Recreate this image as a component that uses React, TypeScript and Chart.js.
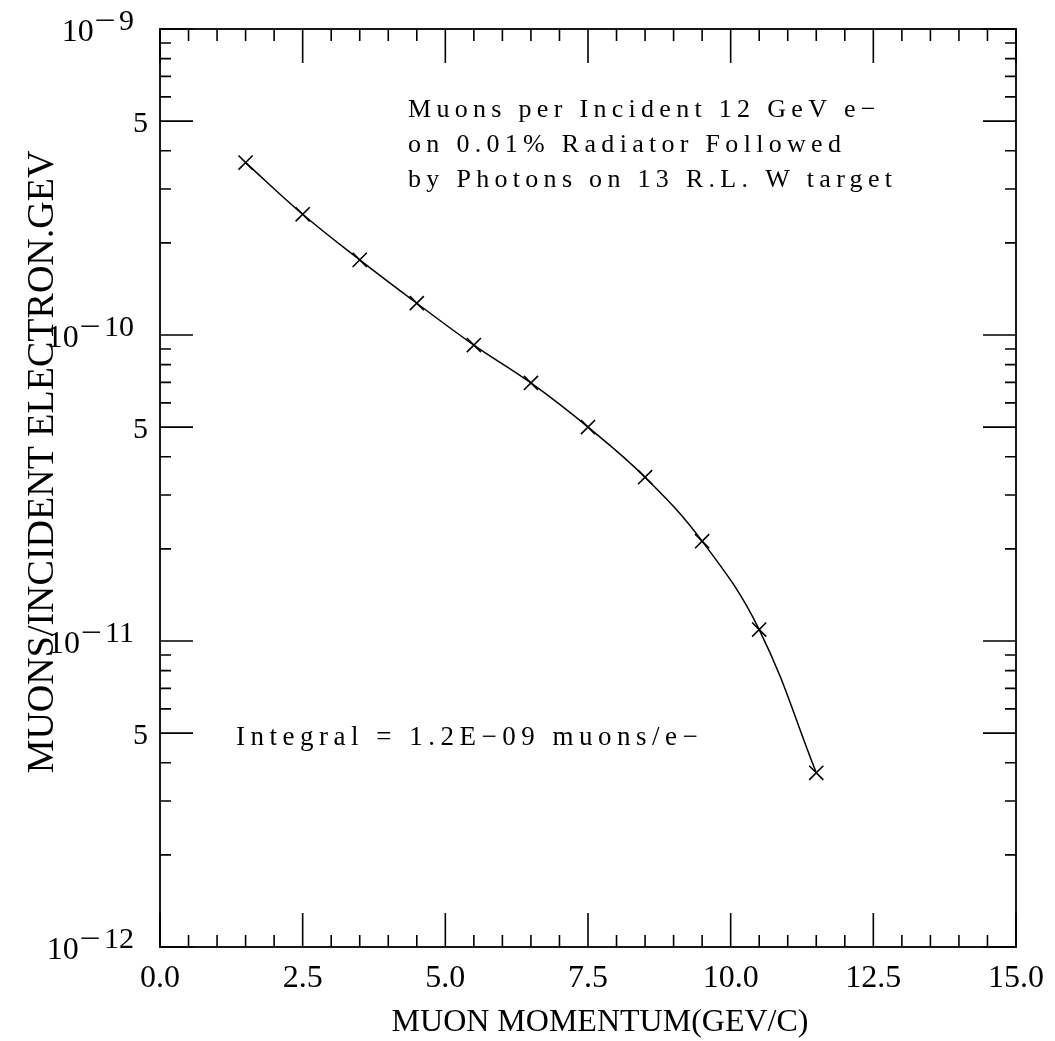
import React, { useEffect, useRef } from 'react';
import { Chart, registerables } from 'chart.js';

Chart.register(...registerables);

// ---- data ----
const momentum = [1.5, 2.5, 3.5, 4.5, 5.5, 6.5, 7.5, 8.5, 9.5, 10.5, 11.5];
const muonsPerElectron = [
  3.66e-10, 2.48e-10, 1.76e-10, 1.27e-10, 9.27e-11, 6.97e-11, 5.0e-11, 3.43e-11, 2.12e-11,
  1.09e-11, 3.71e-12,
];
const xMajorTicks = [0, 2.5, 5, 7.5, 10, 12.5, 15];
const xTickLabels = ['0.0', '2.5', '5.0', '7.5', '10.0', '12.5', '15.0'];
const yDecadeExponents = [-12, -11, -10, -9];
const yFiveValues = [5e-12, 5e-11, 5e-10];
const yFiveLabel = '5';
const annotationLines = [
  'Muons per Incident 12 GeV e\u2212',
  'on 0.01% Radiator Followed',
  'by Photons on 13 R.L. W target',
];
const integralText = 'Integral = 1.2E\u221209 muons/e\u2212';
const xTitle = 'MUON MOMENTUM(GEV/C)';
const yTitle = 'MUONS/INCIDENT ELECTRON.GEV';

const FONT = '"Liberation Serif", "DejaVu Serif", serif';

const framePlugin = {
  id: 'topdrawerFrame',
  afterDraw(chart: any) {
    const { ctx, chartArea } = chart;
    const xs = chart.scales.x;
    const ys = chart.scales.y;
    const { left, right, top, bottom } = chartArea;
    ctx.save();
    ctx.strokeStyle = '#000';
    ctx.fillStyle = '#000';
    // frame
    ctx.lineWidth = 1.8;
    ctx.strokeRect(left, top, right - left, bottom - top);
    // x ticks
    ctx.lineWidth = 1.6;
    ctx.beginPath();
    for (let i = 0; i <= 30; i++) {
      const v = i * 0.5;
      const px = xs.getPixelForValue(v);
      const len = i % 5 === 0 ? 34 : 12;
      ctx.moveTo(px, bottom);
      ctx.lineTo(px, bottom - len);
      ctx.moveTo(px, top);
      ctx.lineTo(px, top + len);
    }
    // y ticks
    for (const e of yDecadeExponents) {
      for (let m = 1; m <= 9; m++) {
        if (e === -9 && m > 1) break;
        const v = m * Math.pow(10, e);
        const py = ys.getPixelForValue(v);
        const len = m === 1 || m === 5 ? 33 : 11;
        ctx.moveTo(left, py);
        ctx.lineTo(left + len, py);
        ctx.moveTo(right, py);
        ctx.lineTo(right - len, py);
      }
    }
    ctx.stroke();

    // x tick labels
    ctx.font = `32px ${FONT}`;
    ctx.textAlign = 'center';
    ctx.textBaseline = 'alphabetic';
    xMajorTicks.forEach((v, i) => {
      ctx.fillText(xTickLabels[i], xs.getPixelForValue(v), bottom + 40);
    });

    // y tick labels (10 with superscript exponent)
    ctx.textAlign = 'right';
    for (const e of yDecadeExponents) {
      const py = ys.getPixelForValue(Math.pow(10, e));
      const digits = String(-e);
      const supRight = left - 26;
      ctx.font = `30px ${FONT}`;
      ctx.fillText(digits, supRight, py + 1);
      const dW = ctx.measureText(digits).width;
      const minusRight = supRight - dW - 3;
      ctx.save();
      ctx.translate(minusRight, 0);
      ctx.scale(1.25, 1);
      ctx.fillText('\u2212', 0, py + 1);
      ctx.restore();
      const mW = ctx.measureText('\u2212').width * 1.25;
      ctx.font = `32px ${FONT}`;
      ctx.fillText('10', minusRight - mW - 1, py + 12);
    }
    ctx.font = `30px ${FONT}`;
    for (const v of yFiveValues) {
      const py = ys.getPixelForValue(v);
      ctx.fillText(yFiveLabel, left - 12, py + 11);
    }

    // annotations
    ctx.textAlign = 'left';
    ctx.font = `26px ${FONT}`;
    (ctx as any).letterSpacing = '5.3px';
    annotationLines.forEach((t, i) => {
      ctx.fillText(t, 408, 117 + i * 35);
    });
    ctx.font = `27px ${FONT}`;
    (ctx as any).letterSpacing = '5.5px';
    ctx.fillText(integralText, 236, 745);
    (ctx as any).letterSpacing = '0px';

    // axis titles
    ctx.font = `32px ${FONT}`;
    ctx.textAlign = 'center';
    ctx.fillText(xTitle, 600, bottom + 84);

    ctx.save();
    ctx.translate(53, 462);
    ctx.rotate(-Math.PI / 2);
    ctx.font = `38px ${FONT}`;
    ctx.textAlign = 'center';
    ctx.fillText(yTitle, 0, 0);
    ctx.restore();

    ctx.restore();
  },
};

export default function App() {
  const canvasRef = useRef<HTMLCanvasElement | null>(null);

  useEffect(() => {
    const canvas = canvasRef.current;
    if (!canvas) return;
    const chart = new Chart(canvas, {
      type: 'line',
      data: {
        datasets: [
          {
            data: momentum.map((x, i) => ({ x, y: muonsPerElectron[i] })),
            borderColor: '#000',
            borderWidth: 1.5,
            tension: 0.4,
            pointStyle: 'crossRot',
            pointRadius: 10,
            pointBorderWidth: 1.6,
            pointBorderColor: '#000',
            pointBackgroundColor: '#000',
            fill: false,
          },
        ],
      },
      options: {
        responsive: false,
        animation: false,
        events: [],
        layout: { padding: { left: 160, top: 29, right: 39, bottom: 94 } },
        scales: {
          x: { type: 'linear', min: 0, max: 15, display: false },
          y: { type: 'logarithmic', min: 1e-12, max: 1e-9, display: false },
        },
        plugins: {
          legend: { display: false },
          tooltip: { enabled: false },
        },
      },
      plugins: [framePlugin],
    });
    return () => chart.destroy();
  }, []);

  return (
    <div style={{ position: 'fixed', left: 0, top: 0, width: 1055, height: 1041, background: '#fff' }}>
      <canvas ref={canvasRef} width={1055} height={1041} style={{ width: 1055, height: 1041 }} />
    </div>
  );
}
